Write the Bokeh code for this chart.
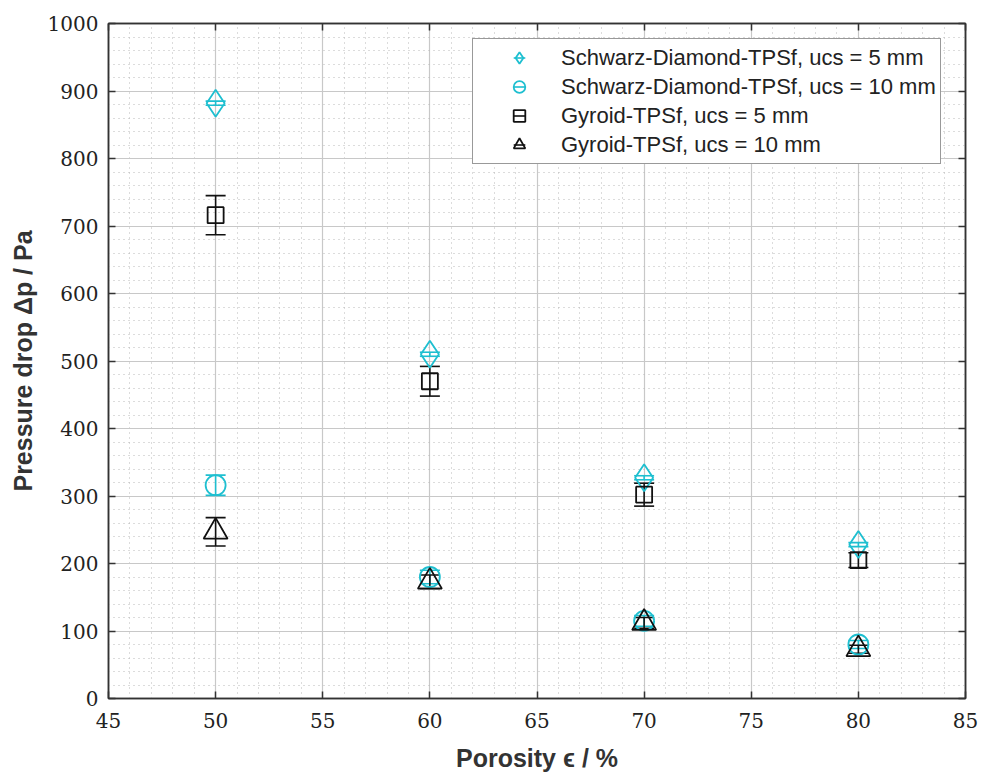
import numpy as np
from bokeh.plotting import figure
from bokeh.models import (Range1d, LinearAxis, SingleIntervalTicker, Whisker, TeeHead,
                          ColumnDataSource, Legend, LegendItem, CustomJSTickFormatter)
from bokeh.embed import file_html
from bokeh.resources import INLINE

# ---- data ----
porosity = [50, 60, 70, 80]
sd5 = [882, 510, 327, 228]
sd5_err = [3, 3, 3, 3]
sd10 = [316, 180, 115, 80]
sd10_err = [15, 10, 8, 6]
gy5 = [716, 470, 302, 205]
gy5_err = [29, 22, 17, 11]
gy10 = [247, 173, 112, 73]
gy10_err = [21, 10, 8, 6]

labels = ["Schwarz-Diamond-TPSf, ucs = 5 mm",
          "Schwarz-Diamond-TPSf, ucs = 10 mm",
          "Gyroid-TPSf, ucs = 5 mm",
          "Gyroid-TPSf, ucs = 10 mm"]
x_ticks_interval = 5
y_ticks_interval = 100

CYAN = "#1ebfd0"
BLACK = "#111111"

p = figure(width=991, height=774, output_backend="svg", toolbar_location=None,
           x_range=Range1d(45, 85), y_range=Range1d(0, 1000),
           min_border_left=108, min_border_right=26, min_border_top=23, min_border_bottom=75)
p.background_fill_color = "white"
p.border_fill_color = "white"
p.outline_line_color = "#333333"
p.outline_line_width = 1.5

xt = SingleIntervalTicker(interval=x_ticks_interval, num_minor_ticks=5)
yt = SingleIntervalTicker(interval=y_ticks_interval, num_minor_ticks=5)
p.xaxis.ticker = xt
p.yaxis.ticker = yt
p.xgrid.ticker = xt
p.ygrid.ticker = yt

for g in (p.xgrid, p.ygrid):
    g.grid_line_color = "#c8c8c8"
    g.grid_line_width = 1.2
    g.minor_grid_line_color = "#b8b8b8"
    g.minor_grid_line_dash = "1 4"
    g.minor_grid_line_width = 1

def style_axis(ax, show_labels=True):
    ax.major_tick_in = 7
    ax.major_tick_out = 0
    ax.minor_tick_in = 0
    ax.minor_tick_out = 0
    ax.major_tick_line_color = "#333333"
    ax.major_tick_line_width = 1.5
    ax.axis_line_color = "#333333"
    ax.axis_line_width = 1.5
    if show_labels:
        ax.major_label_text_font = "DejaVu Serif"
        ax.major_label_text_font_size = "20px"
        ax.major_label_text_color = "#222222"
    else:
        ax.formatter = CustomJSTickFormatter(code="return ''")
        ax.major_label_standoff = 0

style_axis(p.xaxis[0])
style_axis(p.yaxis[0])
p.xaxis.major_label_standoff = 14
p.yaxis.major_label_standoff = 10

p.xaxis.axis_label = "Porosity ϵ / %"
p.yaxis.axis_label = "Pressure drop Δp / Pa"
for ax in (p.xaxis[0], p.yaxis[0]):
    ax.axis_label_text_font = "Liberation Sans"
    ax.axis_label_text_font_style = "bold"
    ax.axis_label_text_color = "#333333"
p.xaxis.axis_label_text_font_size = "25px"
p.yaxis.axis_label_text_font_size = "25px"
p.xaxis.axis_label_standoff = 13
p.yaxis.axis_label_standoff = 8

top = LinearAxis(ticker=xt)
right = LinearAxis(ticker=yt)
style_axis(top, False)
style_axis(right, False)
p.add_layout(top, "above")
p.add_layout(right, "right")

series = [
    (sd5, sd5_err, "diamond", 27, CYAN, labels[0]),
    (sd10, sd10_err, "circle", 20, CYAN, labels[1]),
    (gy5, gy5_err, "square", 16, BLACK, labels[2]),
    (gy10, gy10_err, "triangle", 24, BLACK, labels[3]),
]

items = []
for vals, errs, marker, size, color, lab in series:
    v = np.array(vals, dtype=float)
    e = np.array(errs, dtype=float)
    src = ColumnDataSource(dict(x=porosity, y=vals, upper=v + e, lower=v - e))
    w = Whisker(source=src, base="x", upper="upper", lower="lower", dimension="height",
                line_color=color, line_width=1.6,
                upper_head=TeeHead(size=20, line_color=color, line_width=1.6),
                lower_head=TeeHead(size=20, line_color=color, line_width=1.6))
    p.add_layout(w)
    r = p.scatter("x", "y", source=src, marker=marker, size=size,
                  fill_color=None, line_color=color, line_width=1.8)
    # legend-only vertical error-bar stroke (not drawn in the plot area)
    rl = p.scatter(x=[np.nan], y=[np.nan], marker="dash", angle=np.pi / 2, size=size,
                   line_color=color, line_width=1.6)
    items.append(LegendItem(label=lab, renderers=[r, rl]))

leg = Legend(items=items, location=(364, 534))
leg.margin = 0
leg.padding = 4
leg.spacing = 0
leg.glyph_width = 84
leg.glyph_height = 29
leg.label_height = 29
leg.label_standoff = 0
leg.label_text_font = "Liberation Sans"
leg.label_text_font_size = "22px"
leg.label_text_color = "#222222"
leg.border_line_color = "#333333"
leg.border_line_width = 1.5
leg.background_fill_color = "white"
leg.background_fill_alpha = 1
p.add_layout(leg, "center")

open("out.html", "w").write(file_html(p, INLINE))
